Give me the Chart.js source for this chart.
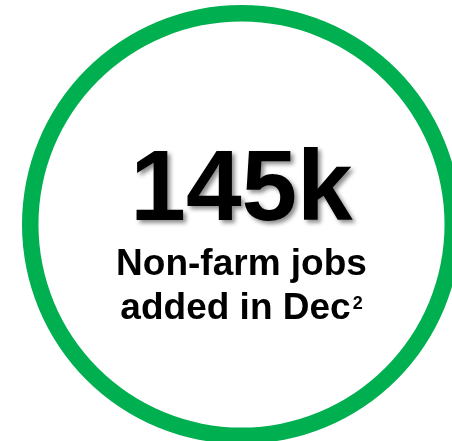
<!DOCTYPE html>
<html>
<head>
<meta charset="utf-8">
<script src="https://cdn.jsdelivr.net/npm/chart.js@4/dist/chart.umd.min.js"></script>
<style>
  html, body { margin: 0; padding: 0; background: #ffffff; overflow: hidden; width: 452px; height: 441px; }
  canvas { position: absolute; left: 0; top: 0; }
</style>
</head>
<body>
<canvas id="c" width="500" height="500"></canvas>
<script>
const categories = ["Non-farm jobs added in Dec"];
const values = [145];
const headline = "145k";
const subtitleLines = ["Non-farm jobs", "added in Dec"];
const footnoteMark = "2";

const centerText = {
  id: 'centerText',
  afterDraw(chart) {
    const ctx = chart.ctx;
    const arc = chart.getDatasetMeta(0).data[0];
    const cx = arc.x, cy = arc.y;
    ctx.save();
    ctx.textBaseline = 'alphabetic';
    ctx.fillStyle = '#000000';
    ctx.textAlign = 'center';
    ctx.font = 'bold 100px "Liberation Sans", Arial, sans-serif';
    ctx.shadowColor = 'rgba(0,0,0,0.45)';
    ctx.shadowBlur = 4;
    ctx.shadowOffsetX = 3;
    ctx.shadowOffsetY = 3;
    ctx.fillText(headline, cx, cy - 4.5);
    ctx.shadowColor = 'transparent';
    ctx.shadowBlur = 0;
    ctx.shadowOffsetX = 0;
    ctx.shadowOffsetY = 0;
    const mainFont = 'bold 37px "Liberation Sans", Arial, sans-serif';
    const supFont = 'bold 18px "Liberation Sans", Arial, sans-serif';
    ctx.font = mainFont;
    ctx.fillText(subtitleLines[0], cx, cy + 50.5);
    const w1 = ctx.measureText(subtitleLines[1]).width;
    ctx.font = supFont;
    const w2 = ctx.measureText(footnoteMark).width;
    const gap = 2;
    const x0 = cx - (w1 + gap + w2) / 2;
    ctx.textAlign = 'left';
    ctx.font = mainFont;
    ctx.fillText(subtitleLines[1], x0, cy + 94.5);
    ctx.font = supFont;
    ctx.fillText(footnoteMark, x0 + w1 + gap, cy + 84);
    ctx.restore();
  }
};

new Chart(document.getElementById('c'), {
  type: 'doughnut',
  data: {
    labels: categories,
    datasets: [{
      data: values,
      backgroundColor: ['#00B050'],
      borderWidth: 0,
      hoverOffset: 0
    }]
  },
  options: {
    responsive: false,
    devicePixelRatio: 1,
    animation: false,
    cutout: '92.5%',
    layout: { padding: { left: 22, top: 5, right: 39, bottom: 56 } },
    plugins: {
      legend: { display: false },
      tooltip: { enabled: false },
      title: { display: false }
    }
  },
  plugins: [centerText]
});
</script>
</body>
</html>
